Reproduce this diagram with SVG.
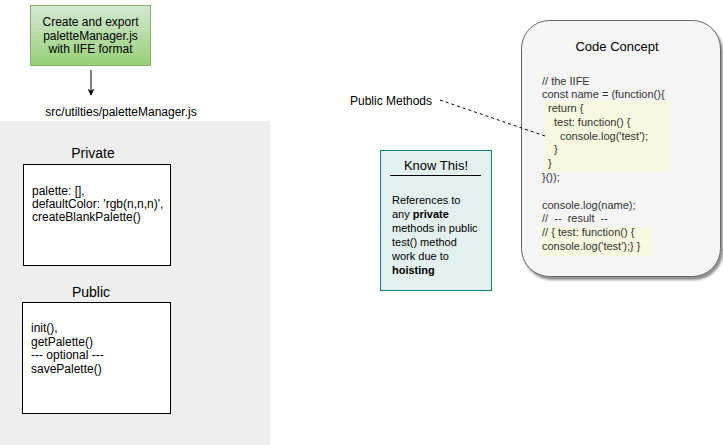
<svg xmlns="http://www.w3.org/2000/svg" width="723" height="445" viewBox="0 0 723 445">
<style>
text{font-family:"Liberation Sans",Arial,Helvetica,sans-serif;fill:#000}
.t12{font-size:12px}
.t11{font-size:11px}
.t14{font-size:14px}
.t13{font-size:13px}
.mid{text-anchor:middle}
.code{font-size:11px;fill:#333333}
.box{fill:#ffffff;stroke:#000000;stroke-width:1}
.hl{fill:#f8f7df}
</style>
<defs>
<linearGradient id="gGreen" x1="0" y1="0" x2="0" y2="1">
<stop offset="0" stop-color="#d5e8d4"/>
<stop offset="1" stop-color="#97d077"/>
</linearGradient>
<filter id="shadow" x="-10%" y="-10%" width="130%" height="130%">
<feGaussianBlur in="SourceAlpha" stdDeviation="1.2"/>
<feOffset dx="2" dy="3" result="b"/>
<feComponentTransfer><feFuncA type="linear" slope="0.45"/></feComponentTransfer>
<feMerge><feMergeNode/><feMergeNode in="SourceGraphic"/></feMerge>
</filter>
<marker id="arrow" viewBox="0 0 10 10" refX="9" refY="5" markerWidth="7" markerHeight="7" markerUnits="userSpaceOnUse" orient="auto">
<path d="M0,0 L10,5 L0,10 L3,5 Z" fill="#000"/>
</marker>
</defs>

<g id="panel">
<rect x="0" y="121" width="270" height="324" fill="#eeeeee"/>
</g>

<g id="start">
<rect x="30.5" y="5.5" width="120" height="60" fill="url(#gGreen)" stroke="#82b366"/>
<text class="t12 mid" x="90.5" y="26">Create and export</text>
<text class="t12 mid" x="90.5" y="39.5">paletteManager.js</text>
<text class="t12 mid" x="90.5" y="53">with IIFE format</text>
</g>

<g id="file-label">
<text class="t12 mid" x="121" y="116">src/utilties/paletteManager.js</text>
</g>

<g id="private">
<text class="t14 mid" x="93" y="158">Private</text>
<rect class="box" x="23.5" y="164.5" width="147" height="101"/>
<text class="t12" x="32" y="195">palette: [],</text>
<text class="t12" x="32" y="208">defaultColor: 'rgb(n,n,n)',</text>
<text class="t12" x="32" y="221">createBlankPalette()</text>
</g>

<g id="public">
<text class="t14 mid" x="91" y="297">Public</text>
<rect class="box" x="22.5" y="302.5" width="148" height="111"/>
<text class="t12" x="31" y="332">init(),</text>
<text class="t12" x="31" y="345.5">getPalette()</text>
<text class="t12" x="31" y="359">--- optional ---</text>
<text class="t12" x="31" y="372.5">savePalette()</text>
</g>

<g id="public-methods">
<text class="t12" x="350" y="104.5">Public Methods</text>
</g>

<g id="know-this">
<rect x="380.5" y="150.5" width="111" height="140" fill="#e3f0f0" stroke="#0e8088"/>
<text class="t13 mid" x="436" y="169.5" fill="#333333">Know This!</text>
<line x1="390" y1="175.5" x2="481" y2="175.5" stroke="#000"/>
<text class="t11" x="392" y="204">References to</text>
<text class="t11" x="392" y="218">any <tspan font-weight="bold">private</tspan></text>
<text class="t11" x="392" y="232">methods in public</text>
<text class="t11" x="392" y="246">test() method</text>
<text class="t11" x="392" y="260">work due to</text>
<text class="t11" x="392" y="274" font-weight="bold">hoisting</text>
</g>

<g id="code-concept">
<rect x="521.5" y="20.5" width="199" height="256" rx="28" ry="28" fill="#f5f5f5" stroke="#666666" filter="url(#shadow)"/>
<rect class="hl" x="544" y="101" width="126" height="71"/>
<rect class="hl" x="540" y="227" width="111" height="29"/>
<text class="t13 mid" x="617" y="50.5" fill="#333333">Code Concept</text>
<text class="code" x="542" y="84.7">// the IIFE</text>
<text class="code" x="542" y="98.4">const name = (function(){</text>
<text class="code" x="548" y="112.1">return {</text>
<text class="code" x="554" y="125.8">test: function() {</text>
<text class="code" x="560" y="139.5">console.log('test');</text>
<text class="code" x="554" y="153.2">}</text>
<text class="code" x="548" y="166.9">}</text>
<text class="code" x="542" y="180.6">}());</text>
<text class="code" x="542" y="208.5">console.log(name);</text>
<text class="code" x="542" y="222" xml:space="preserve">//  --  result  --</text>
<text class="code" x="542" y="236">// { test: function() {</text>
<text class="code" x="542" y="249.7">console.log('test');} }</text>
</g>

<g id="connectors">
<line x1="91" y1="70" x2="91" y2="95" stroke="#000" stroke-width="1" marker-end="url(#arrow)"/>
<line x1="440" y1="100" x2="545" y2="136" stroke="#000" stroke-width="1" stroke-dasharray="3 3"/>
</g>
</svg>
